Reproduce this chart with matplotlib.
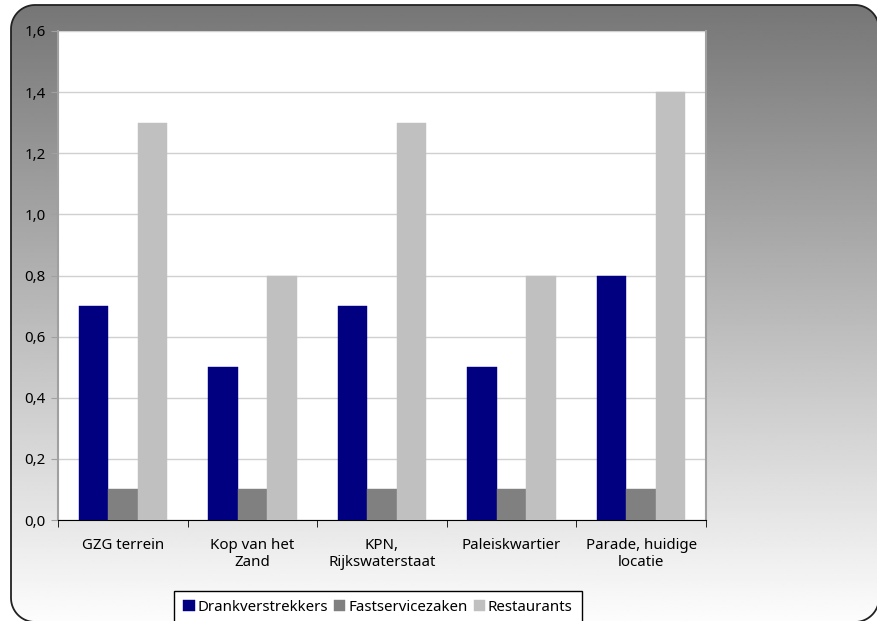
import numpy as np
import matplotlib
matplotlib.use("Agg")
import matplotlib.pyplot as plt
from matplotlib.patches import Polygon

plt.rcParams['font.family'] = ['Noto Sans', 'DejaVu Sans']

# Data
categories = ['GZG terrein', 'Kop van het\nZand', 'KPN,\nRijkswaterstaat',
              'Paleiskwartier', 'Parade, huidige\nlocatie']
series_names = ['Drankverstrekkers', 'Fastservicezaken', 'Restaurants']
drank = [0.7, 0.5, 0.7, 0.5, 0.8]
fast = [0.1, 0.1, 0.1, 0.1, 0.1]
restaurants = [1.3, 0.8, 1.3, 0.8, 1.4]
y_ticks = [0.0, 0.2, 0.4, 0.6, 0.8, 1.0, 1.2, 1.4, 1.6]
colors = ['#000080', '#808080', '#c0c0c0']

W, H = 877, 621
fig = plt.figure(figsize=(W / 100, H / 100), dpi=100)


def rounded_rect(x0, y0, x1, y1, r, n=20):
    # polygon outline of a rounded rectangle (pixel coords, y up)
    pts = []
    corners = [(x1 - r, y1 - r, 0), (x0 + r, y1 - r, 90),
               (x0 + r, y0 + r, 180), (x1 - r, y0 + r, 270)]
    for cx, cy, a0 in corners:
        a = np.radians(np.linspace(a0, a0 + 90, n))
        pts.extend(zip(cx + r * np.cos(a), cy + r * np.sin(a)))
    return np.array(pts)


# rounded background with vertical gradient, partly cut off at right and bottom
bg = fig.add_axes([0, 0, 1, 1], zorder=-10)
bg.set_xlim(0, W)
bg.set_ylim(0, H)
bg.axis('off')
grad = np.linspace(0.99, 0.46, 256).reshape(-1, 1)
img = bg.imshow(grad, cmap='gray', vmin=0, vmax=1, aspect='auto',
                extent=[0, W, 0, H], origin='lower', interpolation='bilinear')
box = Polygon(rounded_rect(11, -1, 879, 616, 24), closed=True,
              facecolor='none', edgecolor='#222222', lw=1.3)
bg.add_patch(box)
img.set_clip_path(box)

# main plot
ax = fig.add_axes([58 / W, 1 - 520 / H, (706 - 58) / W, (520 - 31) / H])
x = np.arange(len(categories))
bw = 0.227
for i, (vals, name) in enumerate(zip([drank, fast, restaurants], series_names)):
    ax.bar(x + (i - 1) * bw, vals, bw, color=colors[i], label=name,
           edgecolor=colors[i], linewidth=0.3, zorder=3)

ax.set_xlim(-0.5, len(categories) - 0.5)
ax.set_ylim(0, 1.6)
ax.set_yticks(y_ticks)
ax.set_yticklabels([f'{v:.1f}'.replace('.', ',') for v in y_ticks], fontsize=10.8)
ax.set_xticks(x)
ax.set_xticklabels(categories, fontsize=10.8)
ax.tick_params(axis='x', length=0, pad=13)
ax.set_xticks(np.arange(len(categories) + 1) - 0.5, minor=True)
ax.tick_params(axis='x', which='minor', length=5, direction='out', color='black')
ax.tick_params(axis='y', length=5, direction='out', color='#a0a0a0', pad=4)
ax.yaxis.grid(True, color='#d0d0d0', lw=1, zorder=0)
ax.set_axisbelow(True)
ax.spines['top'].set_visible(False)
ax.spines['left'].set_color('#a0a0a0')
ax.spines['left'].set_linewidth(1.5)
ax.spines['right'].set_color('#a0a0a0')
ax.spines['right'].set_linewidth(1.5)
ax.spines['bottom'].set_color('black')

leg = fig.legend(loc='upper center', bbox_to_anchor=(378 / W, 1 - 591 / H), ncol=3,
                 fontsize=10.8, frameon=True, fancybox=False, edgecolor='black',
                 handlelength=0.75, handleheight=0.75, handletextpad=0.2,
                 columnspacing=0.4, borderpad=0.6, borderaxespad=0)
leg.get_frame().set_linewidth(1)
leg.get_frame().set_alpha(1)

fig.savefig('out.png', dpi=100)
